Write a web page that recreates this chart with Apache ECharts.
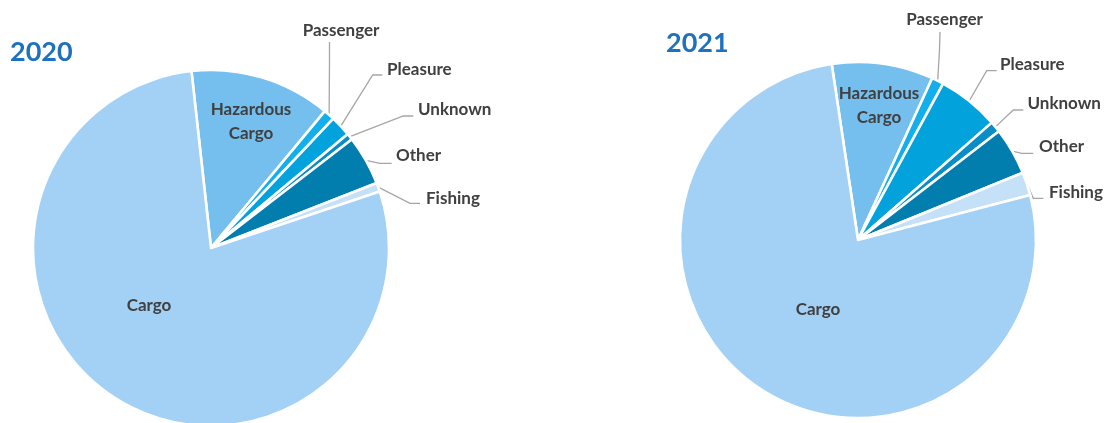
<!DOCTYPE html>
<html>
<head>
<meta charset="utf-8">
<script src="https://cdn.jsdelivr.net/npm/echarts@6/dist/echarts.min.js"></script>
<style>
  html, body { margin: 0; padding: 0; background: #fff; }
  #chart { width: 1105px; height: 423px; }
</style>
</head>
<body>
<div id="chart"></div>
<script>
// Vessel type shares (%) for each year, in clockwise order starting at Hazardous Cargo
const categories = ['Hazardous Cargo', 'Passenger', 'Pleasure', 'Unknown', 'Other', 'Fishing', 'Cargo'];
const labelTexts = ['Hazardous\nCargo', 'Passenger', 'Pleasure', 'Unknown', 'Other', 'Fishing', 'Cargo'];
const values2020 = [12.8, 1.0, 1.9, 0.6, 4.5, 0.8, 78.4];
const values2021 = [9.2, 1.1, 5.6, 1.0, 4.3, 2.1, 76.7];
const years = ['2020', '2021'];

const sliceColors = ['#75BFEF', '#12AFEC', '#02A2DD', '#0A8DC6', '#017DAE', '#C4E1F8', '#A3D0F5'];
const insideNames = ['Hazardous Cargo', 'Cargo'];

// Label anchors and leader elbows for each pie (x, y, align, elbow, end)
const labelSpots = [
  {
    'Hazardous Cargo': { x: 251, y: 122, align: 'center' },
    'Cargo': { x: 149, y: 306, align: 'center' },
    'Passenger': { x: 341, y: 31, align: 'center', elbow: [329.5, 60], end: [329.5, 42] },
    'Pleasure': { x: 387, y: 70, align: 'left', elbow: [372.7, 75], end: [382.3, 75] },
    'Unknown': { x: 418, y: 109.5, align: 'left', elbow: [403.3, 116], end: [413.3, 116] },
    'Other': { x: 396, y: 156, align: 'left', elbow: [380, 163.3], end: [391.7, 163.3] },
    'Fishing': { x: 426, y: 198.5, align: 'left', elbow: [410, 203.3], end: [420, 203.3] }
  },
  {
    'Hazardous Cargo': { x: 879, y: 105.5, align: 'center' },
    'Cargo': { x: 818, y: 310, align: 'center' },
    'Passenger': { x: 944.5, y: 19.5, align: 'center', elbow: [939.5, 50], end: [940, 32] },
    'Pleasure': { x: 1000, y: 65, align: 'left', elbow: [986.7, 70.7], end: [996.7, 70.7] },
    'Unknown': { x: 1027.5, y: 103.5, align: 'left', elbow: [1013.3, 110], end: [1023.3, 110] },
    'Other': { x: 1039, y: 147, align: 'left', elbow: [1021.7, 153.3], end: [1033.3, 153.3] },
    'Fishing': { x: 1049, y: 193, align: 'left', elbow: [1033.3, 198.3], end: [1043.3, 198.3] }
  }
];

const labelFont = { fontFamily: 'Lato', fontWeight: 'bold', fontSize: 17, color: '#404040' };

function buildData(values) {
  return categories.map((name, i) => {
    const inside = insideNames.includes(name);
    return {
      name: name,
      value: values[i],
      itemStyle: { color: sliceColors[i] },
      label: {
        position: inside ? 'inside' : 'outside',
        formatter: labelTexts[i],
        lineHeight: inside ? 24 : 18
      },
      labelLine: { show: !inside }
    };
  });
}

function buildSeries(values, idx, center, startAngle) {
  const spots = labelSpots[idx];
  return {
    type: 'pie',
    name: years[idx],
    center: center,
    radius: 178,
    startAngle: startAngle,
    clockwise: true,
    avoidLabelOverlap: false,
    minShowLabelAngle: 0,
    animation: false,
    itemStyle: { borderColor: '#ffffff', borderWidth: 2.6 },
    label: Object.assign({ show: true }, labelFont),
    labelLine: { show: true, length: 10, length2: 10, lineStyle: { color: '#A6A6A6', width: 1.3 } },
    emphasis: { disabled: true },
    labelLayout: function (params) {
      const name = categories[params.dataIndex];
      const s = spots[name];
      const out = { x: s.x, y: s.y, align: s.align, verticalAlign: 'middle' };
      if (s.elbow && params.labelLinePoints) {
        const p0 = params.labelLinePoints[0];
        out.labelLinePoints = [[p0[0], p0[1]], s.elbow, s.end];
      }
      return out;
    },
    data: buildData(values)
  };
}

const chart = echarts.init(document.getElementById('chart'), null, { renderer: 'canvas' });
chart.setOption({
  backgroundColor: '#ffffff',
  graphic: [
    { type: 'text', style: { x: 10, y: 52, text: years[0], fill: '#1E71BE', font: 'bold 27px Lato', verticalAlign: 'middle' } },
    { type: 'text', style: { x: 666, y: 43, text: years[1], fill: '#1E71BE', font: 'bold 27px Lato', verticalAlign: 'middle' } }
  ],
  series: [
    buildSeries(values2020, 0, [211, 248], 96.3),
    buildSeries(values2021, 1, [858, 240], 98.5)
  ]
});
</script>
</body>
</html>
